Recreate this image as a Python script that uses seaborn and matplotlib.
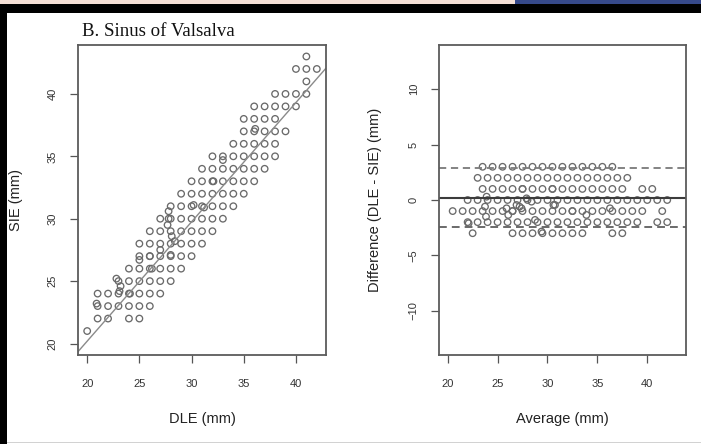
import numpy as np
import pandas as pd
import matplotlib
matplotlib.use("Agg")
import matplotlib.pyplot as plt
import seaborn as sns
from matplotlib.patches import Rectangle

# ---------------- data ----------------
title = "B. Sinus of Valsalva"

# Left panel: DLE (x) vs SIE (y), rows grouped by SIE value
dle = [41,
       40, 41, 42,
       41,
       38, 39, 40, 41,
       36, 37, 38, 39, 40,
       35, 36, 37, 38,
       35, 36, 37, 38, 39,
       34, 35, 36, 37, 38,
       32, 33, 34, 35, 36, 37, 38,
       31, 32, 33, 34, 35, 36, 37,
       30, 31, 32, 33, 34, 35, 36,
       29, 30, 31, 32, 33, 34, 35,
       28, 29, 30, 31, 32, 33, 34,
       27, 28, 29, 30, 31, 32, 33,
       26, 27, 28, 29, 30, 31, 32,
       25, 26, 27, 28, 29, 30, 31,
       25, 26, 27, 28, 29, 30,
       24, 25, 26, 27, 28, 29,
       23, 24, 25, 26, 27, 28,
       21, 22, 23, 24, 25, 26, 27,
       21, 22, 23, 24, 25, 26,
       21, 22, 24, 25,
       20,
       # overlapping / jittered repeats
       27.8, 27.7, 28.1, 28.4, 27.0, 25.0, 26.2, 23.2, 20.9, 33.0,
       30.2, 31.2, 32.1, 36.1, 24.1, 23.1, 28.0, 26.0, 27.8, 22.8]
sie = [43,
       42, 42, 42,
       41,
       40, 40, 40, 40,
       39, 39, 39, 39, 39,
       38, 38, 38, 38,
       37, 37, 37, 37, 37,
       36, 36, 36, 36, 36,
       35, 35, 35, 35, 35, 35, 35,
       34, 34, 34, 34, 34, 34, 34,
       33, 33, 33, 33, 33, 33, 33,
       32, 32, 32, 32, 32, 32, 32,
       31, 31, 31, 31, 31, 31, 31,
       30, 30, 30, 30, 30, 30, 30,
       29, 29, 29, 29, 29, 29, 29,
       28, 28, 28, 28, 28, 28, 28,
       27, 27, 27, 27, 27, 27,
       26, 26, 26, 26, 26, 26,
       25, 25, 25, 25, 25, 25,
       24, 24, 24, 24, 24, 24, 24,
       23, 23, 23, 23, 23, 23,
       22, 22, 22, 22,
       21,
       30.6, 29.5, 28.6, 28.2, 27.5, 26.7, 26.0, 24.6, 23.2, 34.7,
       31.1, 30.9, 33.0, 37.2, 24.0, 24.2, 27.1, 27.0, 30.0, 25.2]

# fitted line shown on the left panel
fit_intercept = 1.07
fit_slope = 0.956

# Right panel: Bland-Altman, average (x) vs difference (y)
avg = [23.5, 24.5, 25.5, 26.5, 27.5, 28.5, 29.5, 30.5, 31.5, 32.5, 33.5, 34.5, 35.5, 36.5,
       23, 24, 25, 26, 27, 28, 29, 30, 31, 32, 33, 34, 35, 36, 37, 38,
       23.5, 24.5, 25.5, 26.5, 27.5, 28.5, 29.5, 30.5, 31.5, 32.5, 33.5, 34.5, 35.5, 36.5, 37.5, 39.5, 40.5,
       22, 23, 24, 25, 26, 27, 28, 29, 30, 31, 32, 33, 34, 35, 36, 37, 38, 39, 40, 41, 42,
       20.5, 21.5, 22.5, 23.5, 24.5, 25.5, 26.5, 27.5, 28.5, 29.5, 30.5, 31.5, 32.5, 33.5, 34.5,
       35.5, 36.5, 37.5, 38.5, 39.5, 41.5,
       22, 23, 24, 25, 26, 27, 28, 29, 30, 31, 32, 33, 34, 35, 36, 37, 38, 39, 41, 42,
       22.5, 26.5, 27.5, 28.5, 29.5, 30.5, 31.5, 32.5, 33.5, 36.5, 37.5,
       # overlapping / jittered repeats
       23.74, 23.84, 25.9, 26.07, 26.9, 27.4, 28.4, 28.75, 29.4, 30.75, 33.9, 36.26,
       23.9, 27.2, 27.9, 30.6, 22.1, 27.5, 30.5, 26.5, 32.5]
diff = [3, 3, 3, 3, 3, 3, 3, 3, 3, 3, 3, 3, 3, 3,
        2, 2, 2, 2, 2, 2, 2, 2, 2, 2, 2, 2, 2, 2, 2, 2,
        1, 1, 1, 1, 1, 1, 1, 1, 1, 1, 1, 1, 1, 1, 1, 1, 1,
        0, 0, 0, 0, 0, 0, 0, 0, 0, 0, 0, 0, 0, 0, 0, 0, 0, 0, 0, 0, 0,
        -1, -1, -1, -1, -1, -1, -1, -1, -1, -1, -1, -1, -1, -1, -1,
        -1, -1, -1, -1, -1, -1,
        -2, -2, -2, -2, -2, -2, -2, -2, -2, -2, -2, -2, -2, -2, -2, -2, -2, -2, -2, -2,
        -3, -3, -3, -3, -3, -3, -3, -3, -3, -3, -3,
        -0.6, -1.5, -0.75, -1.35, -0.45, -0.75, -0.15, -1.8, -2.85, -0.45, -1.35, -0.75,
        0.3, -0.6, 0.15, -0.45, -2.1, 1.0, 1.0, -1.0, -1.0]

mean_diff = 0.22
upper_loa = 2.86
lower_loa = -2.46

left_xticks = [20, 25, 30, 35, 40]
left_yticks = [20, 25, 30, 35, 40]
right_xticks = [20, 25, 30, 35, 40]
right_yticks = [-10, -5, 0, 5, 10]

# ---------------- figure ----------------
sns.set_theme(style="white")
plt.rcParams["font.family"] = ["Liberation Sans", "DejaVu Sans"]

W, H = 701, 444
fig = plt.figure(figsize=(W / 100, H / 100), dpi=100)
fig.patch.set_facecolor("white")

# page decorations around the scanned figure
def frect(x0, y0, x1, y1, color):
    fig.add_artist(Rectangle((x0 / W, 1 - y1 / H), (x1 - x0) / W, (y1 - y0) / H,
                             transform=fig.transFigure, facecolor=color,
                             edgecolor="none", zorder=0))

frect(0, 0, 515, 4.5, "#f5e0d6")
frect(515, 0, W, 4.5, "#36498a")
frect(0, 4.5, W, 13, "#000000")
frect(0, 4.5, 7, H, "#000000")
frect(7, 441.5, W, 443, "#d2d2d2")

ax1 = fig.add_axes([78 / W, 1 - 355 / H, 248 / W, 310 / H])
ax2 = fig.add_axes([439 / W, 1 - 355 / H, 247 / W, 310 / H])

left_df = pd.DataFrame({"DLE": dle, "SIE": sie})
right_df = pd.DataFrame({"Average": avg, "Difference": diff})

pt_kw = dict(marker="o", s=22, facecolor="none", edgecolor="#6a6a6a", linewidth=0.95)
sns.scatterplot(data=left_df, x="DLE", y="SIE", ax=ax1, **pt_kw)
sns.scatterplot(data=right_df, x="Average", y="Difference", ax=ax2, **pt_kw)

ax1.axline((0, fit_intercept), slope=fit_slope, color="#8a8a8a", lw=1.0)
ax2.axhline(mean_diff, color="#3c3c3c", lw=1.5)
ax2.axhline(upper_loa, color="#7a7a7a", lw=1.3, ls=(0, (4, 2.6)))
ax2.axhline(lower_loa, color="#6a6a6a", lw=1.4, ls=(0, (4, 2.6)))

ax1.set_xlim(19.12, 42.88)
ax1.set_ylim(19.08, 43.92)
ax2.set_xlim(19.13, 43.88)
ax2.set_ylim(-14, 14)

ax1.set_xticks(left_xticks)
ax1.set_yticks(left_yticks)
ax2.set_xticks(right_xticks)
ax2.set_yticks(right_yticks)

for ax in (ax1, ax2):
    for sp in ax.spines.values():
        sp.set_visible(True)
        sp.set_color("#5c5c5c")
        sp.set_linewidth(1.3)
    ax.tick_params(axis="both", direction="out", length=5.5, width=0.9,
                   color="#555555", labelsize=8, labelcolor="#333333")
    ax.tick_params(axis="x", pad=11.5, bottom=True)
    ax.tick_params(axis="y", pad=9, labelrotation=90, left=True)
    for lab in ax.get_yticklabels():
        lab.set_va("center")

ax1.set_xlabel("DLE (mm)", fontsize=10.5, color="#222222")
ax1.set_ylabel("SIE (mm)", fontsize=10.5, color="#222222")
ax2.set_xlabel("Average (mm)", fontsize=10.5, color="#222222")
ax2.set_ylabel("Difference (DLE - SIE) (mm)", fontsize=10.5, color="#222222")

ax1.xaxis.set_label_coords(0.5, -(419 - 355) / 310)
ax2.xaxis.set_label_coords(0.5, -(419 - 355) / 310)
ax1.yaxis.set_label_coords((16 - 78) / 248, 0.5)
ax2.yaxis.set_label_coords((375 - 439) / 247, 0.5)
for ax in (ax1, ax2):
    ax.xaxis.label.set_va("center")
    ax.yaxis.label.set_va("center")

fig.text(82 / W, 1 - 36 / H, title, family=["Liberation Serif", "DejaVu Serif"],
         fontsize=13.6, color="#111111", ha="left", va="baseline")

fig.savefig("out.png", dpi=100, facecolor=fig.get_facecolor())
